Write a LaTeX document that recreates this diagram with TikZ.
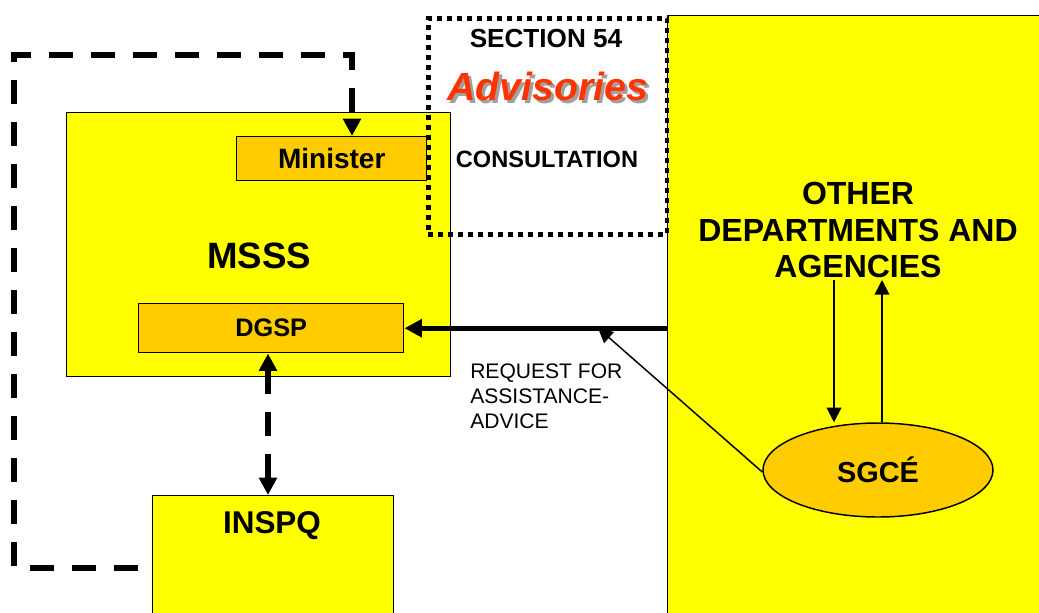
\documentclass[tikz,border=0pt]{standalone}
\usepackage{fontspec}
\setmainfont{Liberation Sans}
\usetikzlibrary{arrows.meta,shapes.geometric}
\definecolor{yel}{HTML}{FFFF00}
\definecolor{org}{HTML}{FFCC00}
\definecolor{adv}{HTML}{FF3300}
\definecolor{shd}{HTML}{A0A0A0}
\tikzset{
  ybox/.style={draw=black,line width=1.1pt,fill=yel,inner sep=0pt},
  obox/.style={draw=black,line width=1.1pt,fill=org,inner sep=0pt},
  lbl/.style={font=\bfseries,inner sep=0pt,align=center},
  bigdash/.style={line width=4.3pt,dash pattern=on 18pt off 13.5pt},
  tip/.style={-{Triangle[length=11pt,width=11pt]}},
}
\begin{document}
\begin{tikzpicture}[x=0.75pt,y=-0.75pt]
\useasboundingbox (0,0) rectangle (1039,612);
\clip (0,0) rectangle (1039,612);
% other departments
\node[ybox,minimum width=390pt,minimum height=480pt,anchor=north west] (other) at (667,15) {};
\node[lbl,font=\bfseries\fontsize{24}{27.4}\selectfont] (othertxt) at (858,230) {OTHER\\DEPARTMENTS AND\\AGENCIES};
% MSSS
\node[ybox,minimum width=288pt,minimum height=198pt,anchor=north west] (msss) at (66,112) {};
\node[lbl,font=\bfseries\fontsize{27.5}{30}\selectfont] (mssstxt) at (259,256) {MSSS};
\node[obox,minimum width=142.5pt,minimum height=33pt,anchor=north west,font=\bfseries\fontsize{21}{24}\selectfont] (minister) at (236,136) {Minister};
\node[obox,minimum width=198.75pt,minimum height=36.75pt,anchor=north west,font=\bfseries\fontsize{19}{22}\selectfont] (dgsp) at (138,303) {DGSP};
% INSPQ
\node[ybox,minimum width=180.75pt,minimum height=120pt,anchor=north west] (inspq) at (152,495) {};
\node[lbl,font=\bfseries\fontsize{23.6}{26}\selectfont] (inspqtxt) at (272,526) {INSPQ};
% SGCE
\node[ellipse,draw=black,line width=1.1pt,fill=org,minimum width=172.5pt,minimum height=70.5pt,inner sep=0pt,font=\bfseries\fontsize{21.7}{24}\selectfont] (sgce) at (878,470) {SGCÉ};
% Section 54 dotted box
\node[draw=black,line width=3.6pt,dash pattern=on 3.75pt off 3.75pt,minimum width=179pt,minimum height=162pt,anchor=north west,inner sep=0pt] (sec) at (426,16) {};
\node[lbl,font=\bfseries\fontsize{19.6}{22}\selectfont] (sectxt) at (546,38) {SECTION 54};
\node[lbl,font=\bfseries\itshape\fontsize{29.5}{32}\selectfont] (adv) at (548,88) {\makebox[0pt][l]{\hspace{2pt}\raisebox{-2pt}{\textcolor{shd}{Advisories}}}\textcolor{adv}{Advisories}};
\node[lbl,font=\bfseries\fontsize{17.7}{20}\selectfont] (cons) at (547,159) {CONSULTATION};
% request label
\node[inner sep=0pt,align=left,anchor=north west,font=\fontsize{15.8}{18.4}\selectfont] (req) at (470,364) {REQUEST FOR\\ASSISTANCE-\\ADVICE};
% thick arrow to DGSP
\draw[line width=3.8pt,-{Triangle[length=13pt,width=13pt]}] (other.west |- dgsp.east) -- (dgsp.east);
% thin arrow from SGCE
\coordinate (reqtip) at (598,328);
\draw[line width=1.1pt,tip] (sgce.west) ++(0,2) -- (reqtip);
% arrows within other
\coordinate (dtop) at (834,280);
\coordinate (utop) at (882,280);
\draw[line width=1.3pt,tip] (dtop) -- (sgce.north -| dtop);
\draw[line width=1.3pt,tip] (sgce.north -| utop) -- (utop);
% dashed lines
\coordinate (c1) at (138,568);
\coordinate (c2) at (14,568);
\coordinate (c3) at (14,55);
\coordinate (c4) at (352,55);
\draw[bigdash,-{Triangle[length=13pt,width=13pt]}] (c1) -- (c2) -- (c3) -- (c4) -- (minister.north -| c4);
\draw[bigdash,{Triangle[length=13pt,width=13pt]}-{Triangle[length=13pt,width=13pt]}] (dgsp.south -| 268,0) -- (inspq.north -| 268,0);
\end{tikzpicture}
\end{document}
